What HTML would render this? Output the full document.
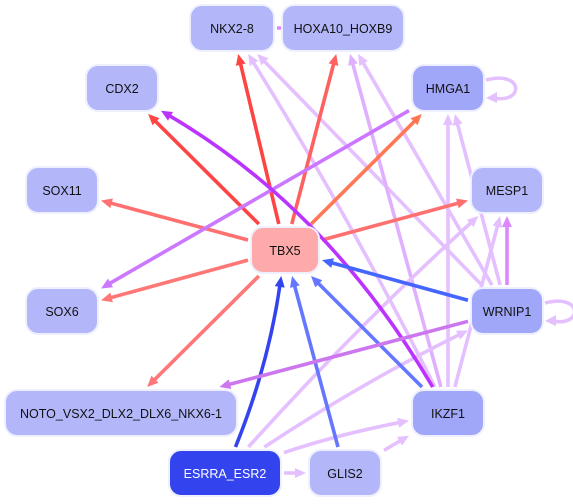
<!DOCTYPE html>
<html><head><meta charset="utf-8">
<style>
html,body{margin:0;padding:0;background:#fff;}
svg{display:block;}
text{font-family:"Liberation Sans",sans-serif;font-size:12.5px;}
</style></head>
<body>
<svg id="g" width="573" height="504" viewBox="0 0 573 504"></svg>
<script>
const nodeNames = ["NKX2-8","HOXA10_HOXB9","CDX2","HMGA1","SOX11","MESP1","TBX5","SOX6","WRNIP1","NOTO_VSX2_DLX2_DLX6_NKX6-1","IKZF1","ESRRA_ESR2","GLIS2"];
const nodeX = [232,343,122,448,62,507,285,62,507,121,448,225,345];
const nodeY = [28,28,88,88,190,190,250,311,311,413,413,473,473];
const nodeW = [84,122,72,72,72,72,68,72,72,232,72,112,72];
const nodeFill = ["#b3b7fa","#b3b7fa","#b3b7fa","#a0a6f8","#b3b7fa","#b3b7fa","#ffaaaa","#b3b7fa","#a0a6f8","#b3b7fa","#a0a6f8","#3344ee","#b3b7fa"];
const edgeFrom = [6,6,6,6,6,6,6,6,3,10,8,10,12,11,8,8,0,8,10,10,8,10,8,10,11,11,11,12,11];
const edgeTo   = [0,1,2,3,4,5,7,9,7,2,6,6,6,6,9,5,1,0,0,1,1,3,3,5,5,8,10,10,12];
const edgeColor= ["#ff4444","#ff6060","#ff4444","#ff7755","#ff7070","#ff7070","#ff7777","#ff7777","#cc77ff","#bb33ff","#4466ff","#6677ff","#6677ff","#3344ee","#cc77ee","#dd88ff","#dd88ff","#e5c0ff","#e5c0ff","#e0b0ff","#e5c0ff","#e5c0ff","#e5c0ff","#e5c0ff","#e5c0ff","#e5c0ff","#e5c0ff","#e5c0ff","#e5c0ff"];
const edgeCurve= [0,0,0,0,0,0,0,0,0,60,0,0,0,14,0,0,0,0,10,0,0,0,0,0,-10,-10,-8,0,0];
const loopNodes = [3,8];
const NS="http://www.w3.org/2000/svg";
const svg=document.getElementById('g');
const H=46;
function mk(t,a){const e=document.createElementNS(NS,t);for(const k in a)e.setAttribute(k,a[k]);return e;}
function clip(cx,cy,dx,dy,w,h){const sx=Math.abs(dx)>0?(w/2+3)/Math.abs(dx):1e9;const sy=Math.abs(dy)>0?(h/2+3)/Math.abs(dy):1e9;const s=Math.min(sx,sy);return [cx+dx*s,cy+dy*s];}
const eg=mk('g',{});


svg.appendChild(eg);
const order=edgeFrom.map((_,i)=>i).sort((a,b)=>(edgeColor[b]==="#e5c0ff"||edgeColor[b]==="#e0b0ff"?1:0)-(edgeColor[a]==="#e5c0ff"||edgeColor[a]==="#e0b0ff"?1:0));
order.forEach(i=>{
  const a=edgeFrom[i],b=edgeTo[i];
  const x1=nodeX[a],y1=nodeY[a],x2=nodeX[b],y2=nodeY[b];
  const mx=(x1+x2)/2,my=(y1+y2)/2,L=Math.hypot(x2-x1,y2-y1);
  const nx=-(y2-y1)/L,ny=(x2-x1)/L;
  const cx=mx+nx*edgeCurve[i],cy=my+ny*edgeCurve[i];
  const s=clip(x1,y1,cx-x1,cy-y1,nodeW[a],H);
  const e=clip(x2,y2,cx-x2,cy-y2,nodeW[b],H);
  const ang=Math.atan2(e[1]-cy,e[0]-cx);
  const ex=e[0]-Math.cos(ang)*8,ey=e[1]-Math.sin(ang)*8;
  const p=mk('path',{d:`M${s[0]},${s[1]} Q${cx},${cy} ${ex},${ey}`,stroke:edgeColor[i],'stroke-width':3.6,fill:'none'});
  
  
  eg.appendChild(p);
  const ca=Math.cos(ang),sa=Math.sin(ang);
  const pts=[[e[0],e[1]],[e[0]-ca*11-sa*5,e[1]-sa*11+ca*5],[e[0]-ca*11+sa*5,e[1]-sa*11-ca*5]];
  const ah=mk('polygon',{points:pts.map(q=>q.join(',')).join(' '),fill:edgeColor[i]});
  
  
  eg.appendChild(ah);
});
loopNodes.forEach(n=>{
  const x=nodeX[n]+nodeW[n]/2+2,y=nodeY[n];
  const p=mk('path',{d:`M${x},${y-8} C${x+38},${y-18} ${x+38},${y+16} ${x+8},${y+10}`,stroke:'#e5c0ff','stroke-width':3.6,fill:'none'});
  
  
  eg.appendChild(p);
  const ah=mk('polygon',{points:`${x},${y+10} ${x+11},${y+4} ${x+11},${y+15}`,fill:'#e5c0ff'});
  
  
  eg.appendChild(ah);
});
nodeNames.forEach((nm,i)=>{
  const g=mk('g',{});
  
  
  const r=mk('rect',{x:nodeX[i]-nodeW[i]/2,y:nodeY[i]-H/2,width:nodeW[i],height:H,rx:12,fill:nodeFill[i],stroke:'#eef0ff','stroke-width':2});
  g.appendChild(r);
  const t=mk('text',{x:nodeX[i],y:nodeY[i]+5,'text-anchor':'middle',fill:i===11?'#fff':'#111'});
  t.textContent=nm;
  g.appendChild(t);
  svg.appendChild(g);
});
</script>
</body></html>
